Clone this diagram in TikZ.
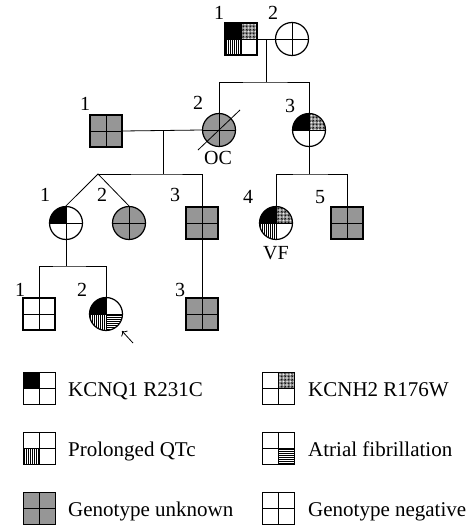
\documentclass[tikz,border=0pt]{standalone}
\usepackage{fontspec}
\setmainfont{Liberation Serif}
\usetikzlibrary{patterns,patterns.meta,arrows.meta}
\definecolor{gtgray}{RGB}{150,150,150}
\tikzset{
    male/.style={draw, rectangle, minimum size=32pt, inner sep=0pt, line width=1.2pt},
    female/.style={draw, circle, minimum size=33pt, inner sep=0pt, line width=1.2pt},
    % four quadrants of a symbol: upper left, upper right, lower left, lower right
    quads/.style n args={4}{path picture={
        \path[#1] (path picture bounding box.center) rectangle (path picture bounding box.north west);
        \path[#2] (path picture bounding box.center) rectangle (path picture bounding box.north east);
        \path[#3] (path picture bounding box.center) rectangle (path picture bounding box.south west);
        \path[#4] (path picture bounding box.center) rectangle (path picture bounding box.south east);
        \draw[line width=0.9pt] (path picture bounding box.north) -- (path picture bounding box.south)
            (path picture bounding box.west) -- (path picture bounding box.east);
    }},
    kcnq/.style={fill=black},
    kcnh/.style={pattern={Dots[distance=1.4pt,radius=0.6pt]}},
    qtc/.style={pattern={Lines[angle=90,distance=2pt,line width=0.7pt]}},
    afib/.style={pattern={Lines[angle=0,distance=2pt,line width=0.7pt]}},
    gtunknown/.style={fill=gtgray, quads={}{}{}{}},
    gtnegative/.style={quads={}{}{}{}},
    lbl/.style={font=\fontsize{20}{22}\selectfont, inner sep=0pt},
    key/.style={font=\fontsize{21}{23}\selectfont, inner sep=0pt, anchor=base west},
    link/.style={line width=0.8pt},
}
\begin{document}
\begin{tikzpicture}[x=1pt, y=-1pt]
    \useasboundingbox (0,0) rectangle (470,525);

    % generation I
    \node[male, quads={kcnq}{kcnh}{qtc}{}] (I1) at (241,39) {};
    \node[female, gtnegative] (I2) at (292,39) {};
    \node[lbl] (lI1) at (219,13) {1};
    \node[lbl] (lI2) at (273,13) {2};

    % generation II
    \node[male, gtunknown] (II1) at (106,131) {};
    \node[female, gtunknown] (II2) at (219,130) {};
    \node[female, quads={kcnq}{kcnh}{}{}] (II3) at (309,130) {};
    \node[lbl] (lII1) at (85,104) {1};
    \node[lbl] (lII2) at (198,103) {2};
    \node[lbl] (lII3) at (290,106) {3};
    \node[lbl] (oc) at (218,158) {OC};
    \draw[link] (II2.center) +(-21,20) -- +(21,-20);

    % generation III
    \node[female, quads={kcnq}{}{}{}] (III1) at (66,223) {};
    \node[female, gtunknown] (III2) at (129,223) {};
    \node[male, gtunknown] (III3) at (202,223) {};
    \node[female, quads={kcnq}{kcnh}{qtc}{}] (III4) at (276,223) {};
    \node[male, gtunknown] (III5) at (347,223) {};
    \node[lbl] (lIII1) at (45,195) {1};
    \node[lbl] (lIII2) at (102,195) {2};
    \node[lbl] (lIII3) at (175,195) {3};
    \node[lbl] (lIII4) at (248,197) {4};
    \node[lbl] (lIII5) at (320,197) {5};
    \node[lbl] (vf) at (276,253) {VF};

    % generation IV
    \node[male, gtnegative] (IV1) at (39,314) {};
    \node[female, quads={kcnq}{}{qtc}{afib}] (IV2) at (106,314) {};
    \node[male, gtunknown] (IV3) at (202,314) {};
    \node[lbl] (lIV1) at (20,290) {1};
    \node[lbl] (lIV2) at (82,290) {2};
    \node[lbl] (lIV3) at (180,290) {3};

    % marriages and sibships
    \coordinate (m1) at (266,39);
    \coordinate (s1) at (266,82);
    \draw[link] (I1.east) -- (I2.west);
    \draw[link] (m1) -- (s1);
    \draw[link] (II2.north) |- (s1) -| (II3.north);

    \coordinate (m2) at (163,131);
    \coordinate (s2) at (163,174);
    \coordinate (tw) at (98,174);
    \draw[link] (II1.east) -- (II2.west);
    \draw[link] (m2) -- (s2);
    \draw[link] (tw) -- (s2) -| (III3.north);
    \draw[link] (III1.north) -- (tw) -- (III2.north);

    \coordinate (s3) at (309,174);
    \draw[link] (II3.south) -- (s3);
    \draw[link] (III4.north) |- (s3) -| (III5.north);

    \coordinate (s4) at (66,266);
    \draw[link] (III1.south) -- (s4);
    \draw[link] (IV1.north) |- (s4) -| (IV2.north);
    \draw[link] (III3.south) -- (IV3.north);

    % proband
    \coordinate (ptail) at (133,343);
    \coordinate (phead) at (122,331);
    \draw[link, -{To[length=4pt]}] (ptail) -- (phead);

    % legend
    \node[male, quads={kcnq}{}{}{}, line width=1pt] (k1) at (39,388) {};
    \node[male, quads={}{kcnh}{}{}, line width=1pt] (k2) at (278,388) {};
    \node[male, quads={}{}{qtc}{}, line width=1pt] (k3) at (39,448) {};
    \node[male, quads={}{}{}{afib}, line width=1pt] (k4) at (278,448) {};
    \node[male, gtunknown, line width=1pt] (k5) at (39,508) {};
    \node[male, gtnegative, line width=1pt] (k6) at (278,508) {};
    \node[key] (t1) at (68,396) {KCNQ1 R231C};
    \node[key] (t2) at (308,396) {KCNH2 R176W};
    \node[key] (t3) at (68,456) {Prolonged QTc};
    \node[key] (t4) at (308,456) {Atrial fibrillation};
    \node[key] (t5) at (68,516) {Genotype unknown};
    \node[key] (t6) at (308,516) {Genotype negative};
\end{tikzpicture}
\end{document}
